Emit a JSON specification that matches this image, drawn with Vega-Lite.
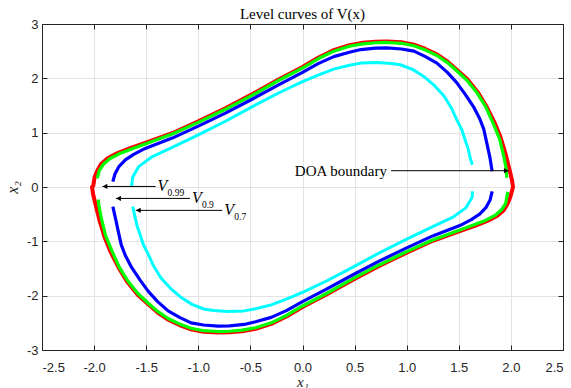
{
  "$schema": "https://vega.github.io/schema/vega-lite/v6.json",
  "width": 521,
  "height": 326,
  "autosize": {"type": "none"},
  "padding": {"left": 42, "top": 24, "right": 8, "bottom": 38},
  "background": "white",
  "title": {"text": "Level curves of V(x)", "font": "Liberation Serif", "fontSize": 15, "fontWeight": "normal", "color": "#000000", "offset": -4},
  "config": {
    "view": {"stroke": null},
    "axis": {
      "domainColor": "#262626", "domainWidth": 1, "tickColor": "#262626", "tickSize": -5, "tickWidth": 1,
      "labelFont": "Liberation Sans", "labelFontSize": 13, "labelColor": "#262626", "labelPadding": 9,
      "gridColor": "#e3e3e3", "gridWidth": 1,
      "titleFont": "Liberation Serif", "titleFontSize": 16, "titleFontStyle": "italic", "titleFontWeight": "normal", "titleColor": "#262626"
    }
  },
  "datasets": {
    "curves": [
      {"c":"r","s":"r","i":1,"x":-2.01,"y":0.0},{"c":"r","s":"r","i":2,"x":-1.995,"y":0.18},{"c":"r","s":"r","i":3,"x":-1.97,"y":0.30},{"c":"r","s":"r","i":4,"x":-1.93,"y":0.43},{"c":"r","s":"r","i":5,"x":-1.87,"y":0.53},{"c":"r","s":"r","i":6,"x":-1.78,"y":0.62},{"c":"r","s":"r","i":7,"x":-1.66,"y":0.71},{"c":"r","s":"r","i":8,"x":-1.51,"y":0.81},{"c":"r","s":"r","i":9,"x":-1.25,"y":0.99},{"c":"r","s":"r","i":10,"x":-1.0,"y":1.21},{"c":"r","s":"r","i":11,"x":-0.74,"y":1.45},{"c":"r","s":"r","i":12,"x":-0.48,"y":1.71},{"c":"r","s":"r","i":13,"x":-0.23,"y":1.98},{"c":"r","s":"r","i":14,"x":0.0,"y":2.21},{"c":"r","s":"r","i":15,"x":0.15,"y":2.38},{"c":"r","s":"r","i":16,"x":0.30,"y":2.52},{"c":"r","s":"r","i":17,"x":0.45,"y":2.61},{"c":"r","s":"r","i":18,"x":0.58,"y":2.655},{"c":"r","s":"r","i":19,"x":0.70,"y":2.675},{"c":"r","s":"r","i":20,"x":0.81,"y":2.68},{"c":"r","s":"r","i":21,"x":0.95,"y":2.665},{"c":"r","s":"r","i":22,"x":1.07,"y":2.62},{"c":"r","s":"r","i":23,"x":1.18,"y":2.54},{"c":"r","s":"r","i":24,"x":1.29,"y":2.44},{"c":"r","s":"r","i":25,"x":1.39,"y":2.31},{"c":"r","s":"r","i":26,"x":1.48,"y":2.16},{"c":"r","s":"r","i":27,"x":1.58,"y":1.99},{"c":"r","s":"r","i":28,"x":1.68,"y":1.75},{"c":"r","s":"r","i":29,"x":1.76,"y":1.50},{"c":"r","s":"r","i":30,"x":1.84,"y":1.20},{"c":"r","s":"r","i":31,"x":1.90,"y":0.92},{"c":"r","s":"r","i":32,"x":1.95,"y":0.60},{"c":"r","s":"r","i":33,"x":1.985,"y":0.33},{"c":"r","s":"r","i":34,"x":2.01,"y":0.13},{"c":"r","s":"r","i":35,"x":2.02,"y":0.0},
      {"c":"r","s":"r","i":36,"x":1.995,"y":-0.18},{"c":"r","s":"r","i":37,"x":1.97,"y":-0.30},{"c":"r","s":"r","i":38,"x":1.93,"y":-0.43},{"c":"r","s":"r","i":39,"x":1.87,"y":-0.53},{"c":"r","s":"r","i":40,"x":1.78,"y":-0.62},{"c":"r","s":"r","i":41,"x":1.66,"y":-0.71},{"c":"r","s":"r","i":42,"x":1.51,"y":-0.81},{"c":"r","s":"r","i":43,"x":1.25,"y":-0.99},{"c":"r","s":"r","i":44,"x":1.0,"y":-1.21},{"c":"r","s":"r","i":45,"x":0.74,"y":-1.45},{"c":"r","s":"r","i":46,"x":0.48,"y":-1.71},{"c":"r","s":"r","i":47,"x":0.23,"y":-1.98},{"c":"r","s":"r","i":48,"x":0.0,"y":-2.21},{"c":"r","s":"r","i":49,"x":-0.15,"y":-2.38},{"c":"r","s":"r","i":50,"x":-0.30,"y":-2.52},{"c":"r","s":"r","i":51,"x":-0.45,"y":-2.61},{"c":"r","s":"r","i":52,"x":-0.58,"y":-2.655},{"c":"r","s":"r","i":53,"x":-0.70,"y":-2.675},{"c":"r","s":"r","i":54,"x":-0.81,"y":-2.68},{"c":"r","s":"r","i":55,"x":-0.95,"y":-2.665},{"c":"r","s":"r","i":56,"x":-1.07,"y":-2.62},{"c":"r","s":"r","i":57,"x":-1.18,"y":-2.54},{"c":"r","s":"r","i":58,"x":-1.29,"y":-2.44},{"c":"r","s":"r","i":59,"x":-1.39,"y":-2.31},{"c":"r","s":"r","i":60,"x":-1.48,"y":-2.16},{"c":"r","s":"r","i":61,"x":-1.58,"y":-1.99},{"c":"r","s":"r","i":62,"x":-1.68,"y":-1.75},{"c":"r","s":"r","i":63,"x":-1.76,"y":-1.50},{"c":"r","s":"r","i":64,"x":-1.84,"y":-1.20},{"c":"r","s":"r","i":65,"x":-1.90,"y":-0.92},{"c":"r","s":"r","i":66,"x":-1.95,"y":-0.60},{"c":"r","s":"r","i":67,"x":-1.985,"y":-0.33},{"c":"r","s":"r","i":68,"x":-2.01,"y":-0.13},{"c":"r","s":"r","i":69,"x":-2.02,"y":0.0},{"c":"r","s":"r","i":70,"x":-2.01,"y":0.0},

      {"c":"g","s":"gu","i":1,"x":-1.97,"y":0.16},{"c":"g","s":"gu","i":2,"x":-1.95,"y":0.30},{"c":"g","s":"gu","i":3,"x":-1.91,"y":0.42},{"c":"g","s":"gu","i":4,"x":-1.85,"y":0.52},{"c":"g","s":"gu","i":5,"x":-1.76,"y":0.61},{"c":"g","s":"gu","i":6,"x":-1.64,"y":0.70},{"c":"g","s":"gu","i":7,"x":-1.51,"y":0.79},{"c":"g","s":"gu","i":8,"x":-1.25,"y":0.975},{"c":"g","s":"gu","i":9,"x":-1.0,"y":1.19},{"c":"g","s":"gu","i":10,"x":-0.74,"y":1.43},{"c":"g","s":"gu","i":11,"x":-0.48,"y":1.69},{"c":"g","s":"gu","i":12,"x":-0.23,"y":1.96},{"c":"g","s":"gu","i":13,"x":0.0,"y":2.19},{"c":"g","s":"gu","i":14,"x":0.15,"y":2.36},{"c":"g","s":"gu","i":15,"x":0.30,"y":2.50},{"c":"g","s":"gu","i":16,"x":0.45,"y":2.59},{"c":"g","s":"gu","i":17,"x":0.58,"y":2.635},{"c":"g","s":"gu","i":18,"x":0.70,"y":2.655},{"c":"g","s":"gu","i":19,"x":0.81,"y":2.66},{"c":"g","s":"gu","i":20,"x":0.95,"y":2.645},{"c":"g","s":"gu","i":21,"x":1.07,"y":2.60},{"c":"g","s":"gu","i":22,"x":1.18,"y":2.52},{"c":"g","s":"gu","i":23,"x":1.29,"y":2.42},{"c":"g","s":"gu","i":24,"x":1.39,"y":2.29},{"c":"g","s":"gu","i":25,"x":1.48,"y":2.14},{"c":"g","s":"gu","i":26,"x":1.58,"y":1.96},{"c":"g","s":"gu","i":27,"x":1.68,"y":1.72},{"c":"g","s":"gu","i":28,"x":1.76,"y":1.47},{"c":"g","s":"gu","i":29,"x":1.83,"y":1.17},{"c":"g","s":"gu","i":30,"x":1.89,"y":0.89},{"c":"g","s":"gu","i":31,"x":1.93,"y":0.58},{"c":"g","s":"gu","i":32,"x":1.955,"y":0.33},{"c":"g","s":"gu","i":33,"x":1.96,"y":0.17},
      {"c":"g","s":"gl","i":1,"x":1.97,"y":-0.09},{"c":"g","s":"gl","i":2,"x":1.95,"y":-0.30},{"c":"g","s":"gl","i":3,"x":1.91,"y":-0.42},{"c":"g","s":"gl","i":4,"x":1.85,"y":-0.52},{"c":"g","s":"gl","i":5,"x":1.76,"y":-0.61},{"c":"g","s":"gl","i":6,"x":1.64,"y":-0.70},{"c":"g","s":"gl","i":7,"x":1.51,"y":-0.79},{"c":"g","s":"gl","i":8,"x":1.25,"y":-0.975},{"c":"g","s":"gl","i":9,"x":1.0,"y":-1.19},{"c":"g","s":"gl","i":10,"x":0.74,"y":-1.43},{"c":"g","s":"gl","i":11,"x":0.48,"y":-1.69},{"c":"g","s":"gl","i":12,"x":0.23,"y":-1.96},{"c":"g","s":"gl","i":13,"x":0.0,"y":-2.19},{"c":"g","s":"gl","i":14,"x":-0.15,"y":-2.36},{"c":"g","s":"gl","i":15,"x":-0.30,"y":-2.50},{"c":"g","s":"gl","i":16,"x":-0.45,"y":-2.59},{"c":"g","s":"gl","i":17,"x":-0.58,"y":-2.635},{"c":"g","s":"gl","i":18,"x":-0.70,"y":-2.655},{"c":"g","s":"gl","i":19,"x":-0.81,"y":-2.66},{"c":"g","s":"gl","i":20,"x":-0.95,"y":-2.645},{"c":"g","s":"gl","i":21,"x":-1.07,"y":-2.60},{"c":"g","s":"gl","i":22,"x":-1.18,"y":-2.52},{"c":"g","s":"gl","i":23,"x":-1.29,"y":-2.42},{"c":"g","s":"gl","i":24,"x":-1.39,"y":-2.29},{"c":"g","s":"gl","i":25,"x":-1.48,"y":-2.14},{"c":"g","s":"gl","i":26,"x":-1.58,"y":-1.96},{"c":"g","s":"gl","i":27,"x":-1.68,"y":-1.72},{"c":"g","s":"gl","i":28,"x":-1.76,"y":-1.47},{"c":"g","s":"gl","i":29,"x":-1.83,"y":-1.17},{"c":"g","s":"gl","i":30,"x":-1.89,"y":-0.89},{"c":"g","s":"gl","i":31,"x":-1.93,"y":-0.58},{"c":"g","s":"gl","i":32,"x":-1.955,"y":-0.33},{"c":"g","s":"gl","i":33,"x":-1.96,"y":-0.23},

      {"c":"b","s":"bu","i":1,"x":-1.82,"y":0.10},{"c":"b","s":"bu","i":2,"x":-1.80,"y":0.24},{"c":"b","s":"bu","i":3,"x":-1.76,"y":0.38},{"c":"b","s":"bu","i":4,"x":-1.70,"y":0.50},{"c":"b","s":"bu","i":5,"x":-1.62,"y":0.60},{"c":"b","s":"bu","i":6,"x":-1.51,"y":0.71},{"c":"b","s":"bu","i":7,"x":-1.25,"y":0.90},{"c":"b","s":"bu","i":8,"x":-1.0,"y":1.12},{"c":"b","s":"bu","i":9,"x":-0.74,"y":1.36},{"c":"b","s":"bu","i":10,"x":-0.48,"y":1.62},{"c":"b","s":"bu","i":11,"x":-0.23,"y":1.88},{"c":"b","s":"bu","i":12,"x":0.0,"y":2.11},{"c":"b","s":"bu","i":13,"x":0.15,"y":2.27},{"c":"b","s":"bu","i":14,"x":0.30,"y":2.40},{"c":"b","s":"bu","i":15,"x":0.45,"y":2.48},{"c":"b","s":"bu","i":16,"x":0.56,"y":2.53},{"c":"b","s":"bu","i":17,"x":0.70,"y":2.555},{"c":"b","s":"bu","i":18,"x":0.81,"y":2.56},{"c":"b","s":"bu","i":19,"x":0.95,"y":2.54},{"c":"b","s":"bu","i":20,"x":1.07,"y":2.50},{"c":"b","s":"bu","i":21,"x":1.18,"y":2.40},{"c":"b","s":"bu","i":22,"x":1.29,"y":2.28},{"c":"b","s":"bu","i":23,"x":1.39,"y":2.11},{"c":"b","s":"bu","i":24,"x":1.48,"y":1.92},{"c":"b","s":"bu","i":25,"x":1.56,"y":1.71},{"c":"b","s":"bu","i":26,"x":1.64,"y":1.48},{"c":"b","s":"bu","i":27,"x":1.70,"y":1.26},{"c":"b","s":"bu","i":28,"x":1.74,"y":1.06},{"c":"b","s":"bu","i":29,"x":1.77,"y":0.80},{"c":"b","s":"bu","i":30,"x":1.80,"y":0.53},{"c":"b","s":"bu","i":31,"x":1.82,"y":0.29},
      {"c":"b","s":"bl","i":1,"x":1.82,"y":-0.08},{"c":"b","s":"bl","i":2,"x":1.80,"y":-0.24},{"c":"b","s":"bl","i":3,"x":1.76,"y":-0.38},{"c":"b","s":"bl","i":4,"x":1.70,"y":-0.50},{"c":"b","s":"bl","i":5,"x":1.62,"y":-0.60},{"c":"b","s":"bl","i":6,"x":1.51,"y":-0.71},{"c":"b","s":"bl","i":7,"x":1.25,"y":-0.90},{"c":"b","s":"bl","i":8,"x":1.0,"y":-1.12},{"c":"b","s":"bl","i":9,"x":0.74,"y":-1.36},{"c":"b","s":"bl","i":10,"x":0.48,"y":-1.62},{"c":"b","s":"bl","i":11,"x":0.23,"y":-1.88},{"c":"b","s":"bl","i":12,"x":0.0,"y":-2.11},{"c":"b","s":"bl","i":13,"x":-0.15,"y":-2.27},{"c":"b","s":"bl","i":14,"x":-0.30,"y":-2.40},{"c":"b","s":"bl","i":15,"x":-0.45,"y":-2.48},{"c":"b","s":"bl","i":16,"x":-0.56,"y":-2.53},{"c":"b","s":"bl","i":17,"x":-0.70,"y":-2.555},{"c":"b","s":"bl","i":18,"x":-0.81,"y":-2.56},{"c":"b","s":"bl","i":19,"x":-0.95,"y":-2.54},{"c":"b","s":"bl","i":20,"x":-1.07,"y":-2.50},{"c":"b","s":"bl","i":21,"x":-1.18,"y":-2.40},{"c":"b","s":"bl","i":22,"x":-1.29,"y":-2.28},{"c":"b","s":"bl","i":23,"x":-1.39,"y":-2.11},{"c":"b","s":"bl","i":24,"x":-1.48,"y":-1.92},{"c":"b","s":"bl","i":25,"x":-1.56,"y":-1.71},{"c":"b","s":"bl","i":26,"x":-1.64,"y":-1.48},{"c":"b","s":"bl","i":27,"x":-1.70,"y":-1.26},{"c":"b","s":"bl","i":28,"x":-1.74,"y":-1.06},{"c":"b","s":"bl","i":29,"x":-1.77,"y":-0.80},{"c":"b","s":"bl","i":30,"x":-1.80,"y":-0.53},{"c":"b","s":"bl","i":31,"x":-1.82,"y":-0.36},

      {"c":"c","s":"cu","i":1,"x":-1.64,"y":0.01},{"c":"c","s":"cu","i":2,"x":-1.63,"y":0.18},{"c":"c","s":"cu","i":3,"x":-1.57,"y":0.38},{"c":"c","s":"cu","i":4,"x":-1.44,"y":0.56},{"c":"c","s":"cu","i":5,"x":-1.25,"y":0.73},{"c":"c","s":"cu","i":6,"x":-1.0,"y":0.96},{"c":"c","s":"cu","i":7,"x":-0.74,"y":1.21},{"c":"c","s":"cu","i":8,"x":-0.48,"y":1.48},{"c":"c","s":"cu","i":9,"x":-0.23,"y":1.73},{"c":"c","s":"cu","i":10,"x":0.0,"y":1.94},{"c":"c","s":"cu","i":11,"x":0.15,"y":2.06},{"c":"c","s":"cu","i":12,"x":0.30,"y":2.17},{"c":"c","s":"cu","i":13,"x":0.45,"y":2.24},{"c":"c","s":"cu","i":14,"x":0.56,"y":2.28},{"c":"c","s":"cu","i":15,"x":0.72,"y":2.29},{"c":"c","s":"cu","i":16,"x":0.85,"y":2.275},{"c":"c","s":"cu","i":17,"x":0.94,"y":2.25},{"c":"c","s":"cu","i":18,"x":1.06,"y":2.16},{"c":"c","s":"cu","i":19,"x":1.16,"y":2.04},{"c":"c","s":"cu","i":20,"x":1.27,"y":1.86},{"c":"c","s":"cu","i":21,"x":1.36,"y":1.67},{"c":"c","s":"cu","i":22,"x":1.43,"y":1.45},{"c":"c","s":"cu","i":23,"x":1.48,"y":1.24},{"c":"c","s":"cu","i":24,"x":1.53,"y":1.05},{"c":"c","s":"cu","i":25,"x":1.56,"y":0.87},{"c":"c","s":"cu","i":26,"x":1.59,"y":0.70},{"c":"c","s":"cu","i":27,"x":1.61,"y":0.53},{"c":"c","s":"cu","i":28,"x":1.63,"y":0.41},
      {"c":"c","s":"cl","i":1,"x":1.63,"y":-0.08},{"c":"c","s":"cl","i":2,"x":1.63,"y":-0.18},{"c":"c","s":"cl","i":3,"x":1.57,"y":-0.38},{"c":"c","s":"cl","i":4,"x":1.44,"y":-0.56},{"c":"c","s":"cl","i":5,"x":1.25,"y":-0.73},{"c":"c","s":"cl","i":6,"x":1.0,"y":-0.96},{"c":"c","s":"cl","i":7,"x":0.74,"y":-1.21},{"c":"c","s":"cl","i":8,"x":0.48,"y":-1.48},{"c":"c","s":"cl","i":9,"x":0.23,"y":-1.73},{"c":"c","s":"cl","i":10,"x":0.0,"y":-1.94},{"c":"c","s":"cl","i":11,"x":-0.15,"y":-2.06},{"c":"c","s":"cl","i":12,"x":-0.30,"y":-2.17},{"c":"c","s":"cl","i":13,"x":-0.45,"y":-2.24},{"c":"c","s":"cl","i":14,"x":-0.56,"y":-2.28},{"c":"c","s":"cl","i":15,"x":-0.72,"y":-2.29},{"c":"c","s":"cl","i":16,"x":-0.85,"y":-2.275},{"c":"c","s":"cl","i":17,"x":-0.94,"y":-2.25},{"c":"c","s":"cl","i":18,"x":-1.06,"y":-2.16},{"c":"c","s":"cl","i":19,"x":-1.16,"y":-2.04},{"c":"c","s":"cl","i":20,"x":-1.27,"y":-1.86},{"c":"c","s":"cl","i":21,"x":-1.36,"y":-1.67},{"c":"c","s":"cl","i":22,"x":-1.43,"y":-1.45},{"c":"c","s":"cl","i":23,"x":-1.48,"y":-1.24},{"c":"c","s":"cl","i":24,"x":-1.53,"y":-1.05},{"c":"c","s":"cl","i":25,"x":-1.56,"y":-0.87},{"c":"c","s":"cl","i":26,"x":-1.59,"y":-0.70},{"c":"c","s":"cl","i":27,"x":-1.61,"y":-0.53},{"c":"c","s":"cl","i":28,"x":-1.63,"y":-0.36}
    ],
    "arrows": [
      {"name":"DOA","x":0.85,"x2":1.98,"y":0.30,"hx":1.955,"shape":"triangle-right"},
      {"name":"V99","x":-1.41,"x2":-1.92,"y":0.01,"hx":-1.895,"shape":"triangle-left"},
      {"name":"V90","x":-1.08,"x2":-1.79,"y":-0.21,"hx":-1.765,"shape":"triangle-left"},
      {"name":"V70","x":-0.77,"x2":-1.60,"y":-0.43,"hx":-1.575,"shape":"triangle-left"}
    ],
    "vlabels": [
      {"v":"V","sub":"0.99","x":-1.41,"y":0.01},
      {"v":"V","sub":"0.9","x":-1.08,"y":-0.21},
      {"v":"V","sub":"0.7","x":-0.77,"y":-0.43}
    ],
    "doa": [
      {"t":"DOA boundary","x":0.81,"y":0.30}
    ]
  },
  "resolve": {"axis": {"x": "independent", "y": "independent"}},
  "layer": [
    {
      "data": {"name": "curves"},
      "transform": [{"filter": "datum.c === 'r'"}],
      "mark": {"type": "line", "color": "#ff0000", "strokeWidth": 4, "strokeJoin": "round"},
      "encoding": {
        "x": {"field": "x", "type": "quantitative", "scale": {"domain": [-2.5, 2.5], "nice": false, "zero": false},
              "axis": {"orient": "bottom", "values": [-2.5,-2,-1.5,-1,-0.5,0,0.5,1,1.5,2,2.5], "labelExpr": "replace(datum.label, '−', '-')", "labelPadding": 16, "title": "x₁", "titleFontSize": 15, "titlePadding": 0, "grid": true}},
        "y": {"field": "y", "type": "quantitative", "scale": {"domain": [-3, 3], "nice": false, "zero": false},
              "axis": {"orient": "left", "values": [-3,-2,-1,0,1,2,3], "labelExpr": "replace(datum.label, '−', '-')", "title": "x₂", "titlePadding": 6, "grid": true}},
        "detail": {"field": "s"},
        "order": {"field": "i", "type": "quantitative"}
      }
    },
    {
      "data": {"name": "curves"},
      "transform": [{"filter": "datum.c === 'g'"}],
      "mark": {"type": "line", "color": "#00ff00", "strokeWidth": 3.2, "strokeJoin": "round"},
      "encoding": {
        "x": {"field": "x", "type": "quantitative", "axis": null},
        "y": {"field": "y", "type": "quantitative", "axis": null},
        "detail": {"field": "s"},
        "order": {"field": "i", "type": "quantitative"}
      }
    },
    {
      "data": {"name": "curves"},
      "transform": [{"filter": "datum.c === 'b'"}],
      "mark": {"type": "line", "color": "#0000ff", "strokeWidth": 3.2, "strokeJoin": "round"},
      "encoding": {
        "x": {"field": "x", "type": "quantitative", "axis": null},
        "y": {"field": "y", "type": "quantitative", "axis": null},
        "detail": {"field": "s"},
        "order": {"field": "i", "type": "quantitative"}
      }
    },
    {
      "data": {"name": "curves"},
      "transform": [{"filter": "datum.c === 'c'"}],
      "mark": {"type": "line", "color": "#00ffff", "strokeWidth": 3, "strokeJoin": "round"},
      "encoding": {
        "x": {"field": "x", "type": "quantitative", "axis": null},
        "y": {"field": "y", "type": "quantitative", "axis": null},
        "detail": {"field": "s"},
        "order": {"field": "i", "type": "quantitative"}
      }
    },
    {
      "data": {"name": "arrows"},
      "mark": {"type": "rule", "color": "#000000", "strokeWidth": 1},
      "encoding": {
        "x": {"field": "x", "type": "quantitative", "axis": null},
        "x2": {"field": "x2"},
        "y": {"field": "y", "type": "quantitative", "axis": null}
      }
    },
    {
      "data": {"name": "arrows"},
      "mark": {"type": "point", "filled": true, "color": "#000000", "size": 28, "opacity": 1},
      "encoding": {
        "x": {"field": "hx", "type": "quantitative", "axis": null},
        "y": {"field": "y", "type": "quantitative", "axis": null},
        "shape": {"field": "shape", "type": "nominal", "scale": null}
      }
    },
    {
      "data": {"name": "vlabels"},
      "mark": {"type": "text", "font": "Liberation Serif", "fontSize": 16, "fontStyle": "italic", "align": "left", "baseline": "alphabetic", "dx": 2, "dy": 5, "color": "#000000"},
      "encoding": {
        "x": {"field": "x", "type": "quantitative", "axis": null},
        "y": {"field": "y", "type": "quantitative", "axis": null},
        "text": {"field": "v"}
      }
    },
    {
      "data": {"name": "vlabels"},
      "mark": {"type": "text", "font": "Liberation Serif", "fontSize": 9.5, "align": "left", "baseline": "alphabetic", "dx": 12, "dy": 10, "color": "#000000"},
      "encoding": {
        "x": {"field": "x", "type": "quantitative", "axis": null},
        "y": {"field": "y", "type": "quantitative", "axis": null},
        "text": {"field": "sub"}
      }
    },
    {
      "data": {"name": "doa"},
      "mark": {"type": "text", "font": "Liberation Serif", "fontSize": 15, "align": "right", "baseline": "middle", "dx": 0, "color": "#000000"},
      "encoding": {
        "x": {"field": "x", "type": "quantitative", "axis": null},
        "y": {"field": "y", "type": "quantitative", "axis": null},
        "text": {"field": "t"}
      }
    },
    {
      "data": {"name": "arrows"},
      "mark": {"type": "point", "opacity": 0},
      "encoding": {
        "x": {"field": "hx", "type": "quantitative",
              "axis": {"orient": "top", "values": [-2.5,-2,-1.5,-1,-0.5,0,0.5,1,1.5,2,2.5], "labels": false, "labelPadding": 0, "title": null, "grid": false}},
        "y": {"field": "y", "type": "quantitative",
              "axis": {"orient": "right", "values": [-3,-2,-1,0,1,2,3], "labels": false, "labelPadding": 0, "title": null, "grid": false}}
      }
    }
  ]
}
